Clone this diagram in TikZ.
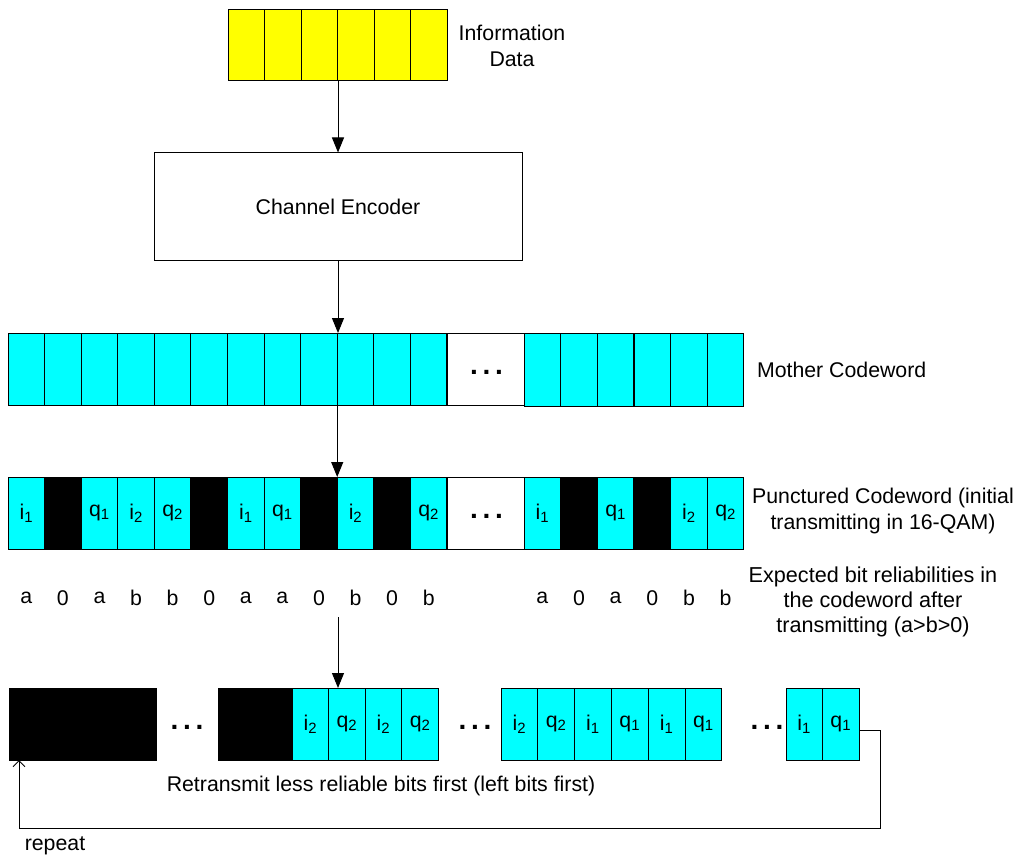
\documentclass[tikz,border=0pt]{standalone}
\usepackage{fontspec}
\setmainfont{Liberation Sans}
\usetikzlibrary{arrows.meta}
\definecolor{cellcyan}{RGB}{0,255,255}
\definecolor{cellyellow}{RGB}{255,255,0}
\newcommand{\ia}{i\textsubscript{1}}
\newcommand{\ib}{i\textsubscript{2}}
\newcommand{\qa}{q\textsubscript{1}}
\newcommand{\qb}{q\textsubscript{2}}
\newcommand{\mydots}{.\hspace{4.7pt}.\hspace{4.7pt}.}
\begin{document}
\begin{tikzpicture}[x=1pt,y=-1pt,
  every node/.style={font=\fontsize{21.3}{26}\selectfont},
  lbl/.style={inner sep=0pt, outer sep=0pt},
  cellbox/.style={draw=black, line width=1pt, fill=cellcyan, minimum width=36.6pt, minimum height=72pt, inner sep=0pt, outer sep=0pt, anchor=north west},
  ycell/.style={cellbox, fill=cellyellow, minimum width=36.5pt, minimum height=71pt},
  blkbox/.style={cellbox, fill=black},
  dotbox/.style={cellbox, fill=white, minimum width=77pt},
  dotstext/.style={inner sep=0pt, outer sep=0pt, anchor=base, font=\fontsize{28}{30}\selectfont\bfseries},
  arr/.style={line width=1pt, -{Triangle[length=15pt,width=12pt]}},
  loopline/.style={line width=1pt, -{Straight Barb[length=6pt,width=12pt]}}
]
\useasboundingbox (0,0) rectangle (1020,856);

% Information data
\foreach \i in {0,...,5} \node[ycell] (y\i) at ({228+\i*36.5},10) {};
\node[lbl, align=center] (info) at (512,46) {Information\\Data};

% Encoder
\node[draw, line width=1pt, minimum width=368pt, minimum height=107pt, inner sep=0pt] (enc) at (338,206.5) {Channel Encoder};

% Mother codeword
\foreach \i in {0,...,11} \node[cellbox] (m\i) at ({8+\i*36.58},333) {};
\node[dotbox] (mdots) at (447,333) {};
\node[dotstext] (mdt) at (486.5,374) {\mydots};
\foreach \i in {0,...,5} \node[cellbox, minimum height=73pt] (mr\i) at ({524+\i*36.67},333) {};
\node[lbl, anchor=west] (mlab) at (757,370) {Mother Codeword};

% Punctured codeword
\foreach \f/\t [count=\i from 0] in {cellcyan/\ia, black/{}, cellcyan/\qa, cellcyan/\ib, cellcyan/\qb, black/{}, cellcyan/\ia, cellcyan/\qa, black/{}, cellcyan/\ib, black/{}, cellcyan/\qb}
  \node[cellbox, fill=\f] (p\i) at ({8+\i*36.58},477) {\t};
\node[dotbox] (pdots) at (447,477) {};
\node[dotstext] (pdt) at (486.5,518) {\mydots};
\foreach \f/\t [count=\i from 0] in {cellcyan/\ia, black/{}, cellcyan/\qa, black/{}, cellcyan/\ib, cellcyan/\qb}
  \node[cellbox, fill=\f] (pr\i) at ({524+\i*36.67},477) {\t};
\node[lbl, align=center] (plab) at (883,511) {Punctured Codeword (initial\\transmitting in 16-QAM)};

% Reliabilities
\foreach \t [count=\i from 0] in {a,0,a,b,b,0,a,a,0,b,0,b}
  \node[lbl] (r\i) at ({26.3+\i*36.58},598) {\t};
\foreach \t [count=\i from 0] in {a,0,a,0,b,b}
  \node[lbl] (rr\i) at ({542.3+\i*36.67},598) {\t};
\node[lbl, align=center, font=\fontsize{21.6}{25}\selectfont] (elab) at (873,602) {Expected bit reliabilities in\\the codeword after\\transmitting (a>b>0)};

% Retransmission row
\node[blkbox, minimum width=147pt] (bk1) at (9,688) {};
\node[dotstext] (bd1) at (187,729) {\mydots};
\node[blkbox, minimum width=74pt] (bk2) at (218,688) {};
\foreach \t [count=\i from 0] in {\ib,\qb,\ib,\qb}
  \node[cellbox] (b\i) at ({292+\i*36.6},688) {\t};
\node[dotstext] (bd2) at (475,729) {\mydots};
\foreach \t [count=\i from 0] in {\ib,\qb,\ia,\qa,\ia,\qa}
  \node[cellbox, minimum width=36.8pt] (c\i) at ({501+\i*36.8},688) {\t};
\node[dotstext] (bd3) at (767,729) {\mydots};
\node[cellbox, minimum width=36.5pt] (d0) at (786,688) {\ia};
\node[cellbox, minimum width=36.5pt] (d1) at (822.5,688) {\qa};
\node[lbl] (rtx) at (381,786) {Retransmit less reliable bits first (left bits first)};
\node[lbl] (rep) at (55,846) {repeat};

% Connectors
\draw[arr] (enc.north |- y3.south) -- (enc.north);
\draw[arr] (enc.south) -- (enc.south |- m9.north);
\draw[arr] (m9.south west) -- (m9.south west |- p9.north);
\coordinate (a4s) at (338,617);
\draw[arr] (a4s) -- (a4s |- b1.north);
\coordinate (lr) at (880,828);
\coordinate (ltip) at (19,760);
\draw[loopline] ([yshift=-6pt]d1.east) -| (lr) -| (ltip);
\end{tikzpicture}
\end{document}
